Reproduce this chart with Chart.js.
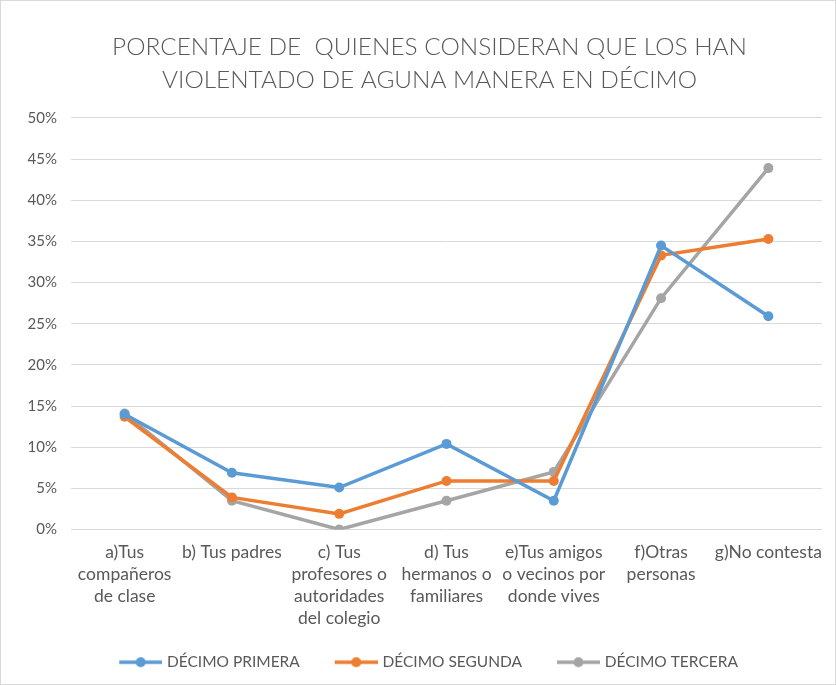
<!DOCTYPE html>
<html>
<head>
<meta charset="utf-8">
<script src="https://cdn.jsdelivr.net/npm/chart.js@4.4.1/dist/chart.umd.min.js"></script>
<style>
  body { margin: 0; background: #fff; }
  #marco { width: 834px; height: 683px; border: 1px solid #d9d9d9; }
</style>
</head>
<body>
<div id="marco"><canvas id="grafico" width="834" height="683"></canvas></div>
<script>
// categorias del eje x (multilinea como en Excel)
var categorias = [
    ["a)Tus", "compañeros", "de clase"],
    ["b) Tus padres"],
    ["c) Tus", "profesores o", "autoridades", "del colegio"],
    ["d) Tus", "hermanos o", "familiares"],
    ["e)Tus amigos", "o vecinos por", "donde vives"],
    ["f)Otras", "personas"],
    ["g)No contesta"]
];

// porcentajes
var decimoPrimera = [14.0, 6.9, 5.1, 10.4, 3.5, 34.5, 25.9];
var decimoSegunda = [13.7, 3.9, 1.9, 5.9, 5.9, 33.3, 35.3];
var decimoTercera = [14.1, 3.5, 0.0, 3.5, 7.0, 28.1, 43.9];

var nombresSeries = ["DÉCIMO PRIMERA", "DÉCIMO SEGUNDA", "DÉCIMO TERCERA"];
var colores = ["#5b9bd5", "#ed7d31", "#a5a5a5"];

var fuente = "Lato, 'Open Sans', sans-serif";
var gris = "#595959";

// icono de la leyenda: linea con punto al medio (con margen transparente a la izquierda)
function iconoLeyenda(color) {
    var c = document.createElement("canvas");
    c.width = 56;
    c.height = 12;
    var cx = c.getContext("2d");
    cx.strokeStyle = color;
    cx.lineWidth = 3.5;
    cx.beginPath();
    cx.moveTo(13, 6);
    cx.lineTo(56, 6);
    cx.stroke();
    cx.fillStyle = color;
    cx.beginPath();
    cx.arc(34.5, 6, 5, 0, Math.PI * 2);
    cx.fill();
    return c;
}

function serie(i, datos) {
    return {
        label: nombresSeries[i],
        data: datos,
        borderColor: colores[i],
        backgroundColor: colores[i],
        borderWidth: 3.5,
        pointRadius: 5,
        pointBorderWidth: 0,
        pointStyle: "circle",
        tension: 0
    };
}

// el eje y es angosto para centrar titulo y leyenda como en Excel;
// se abre su zona de etiquetas hasta el borde para que no se corten
var abrirEjeY = {
    id: "abrirEjeY",
    afterLayout: function(chart) {
        chart.scales.y.left = 0;
    }
};

var ctx = document.getElementById("grafico").getContext("2d");
var chart = new Chart(ctx, {
    type: "line",
    data: {
        labels: categorias,
        datasets: [
            serie(0, decimoPrimera),
            serie(1, decimoSegunda),
            serie(2, decimoTercera)
        ]
    },
    plugins: [abrirEjeY],
    options: {
        responsive: false,
        animation: false,
        layout: { padding: { left: 36, right: 13, top: 30, bottom: 4 } },
        plugins: {
            title: {
                display: true,
                text: ["PORCENTAJE DE  QUIENES CONSIDERAN QUE LOS HAN", "VIOLENTADO DE AGUNA MANERA EN DÉCIMO"],
                color: gris,
                font: { family: fuente, size: 24.4, weight: "300", lineHeight: 1.33 },
                padding: { top: 0, bottom: 22 }
            },
            legend: {
                position: "bottom",
                labels: {
                    color: gris,
                    font: { family: fuente, size: 15.5 },
                    usePointStyle: true,
                    pointStyleWidth: 50,
                    padding: 13,
                    generateLabels: function(chart) {
                        return chart.data.datasets.map(function(ds, i) {
                            return {
                                text: ds.label + "   ",
                                fillStyle: ds.borderColor,
                                strokeStyle: ds.borderColor,
                                pointStyle: iconoLeyenda(ds.borderColor),
                                fontColor: gris,
                                lineWidth: 0,
                                datasetIndex: i
                            };
                        });
                    }
                }
            },
            tooltip: { enabled: false }
        },
        scales: {
            x: {
                offset: true,
                grid: { display: false, drawTicks: false },
                border: { display: false },
                ticks: {
                    color: gris,
                    font: { family: fuente, size: 17.5, lineHeight: 1.257 },
                    maxRotation: 0,
                    autoSkip: false,
                    padding: 12
                }
            },
            y: {
                min: 0,
                max: 50,
                grid: { color: "#d9d9d9", lineWidth: 1, drawTicks: false },
                border: { display: false },
                ticks: {
                    stepSize: 5,
                    color: gris,
                    font: { family: fuente, size: 15 },
                    padding: 14,
                    callback: function(v) { return v + "%"; }
                },
                afterFit: function(scale) { scale.width = 34; }
            }
        }
    }
});
</script>
</body>
</html>
